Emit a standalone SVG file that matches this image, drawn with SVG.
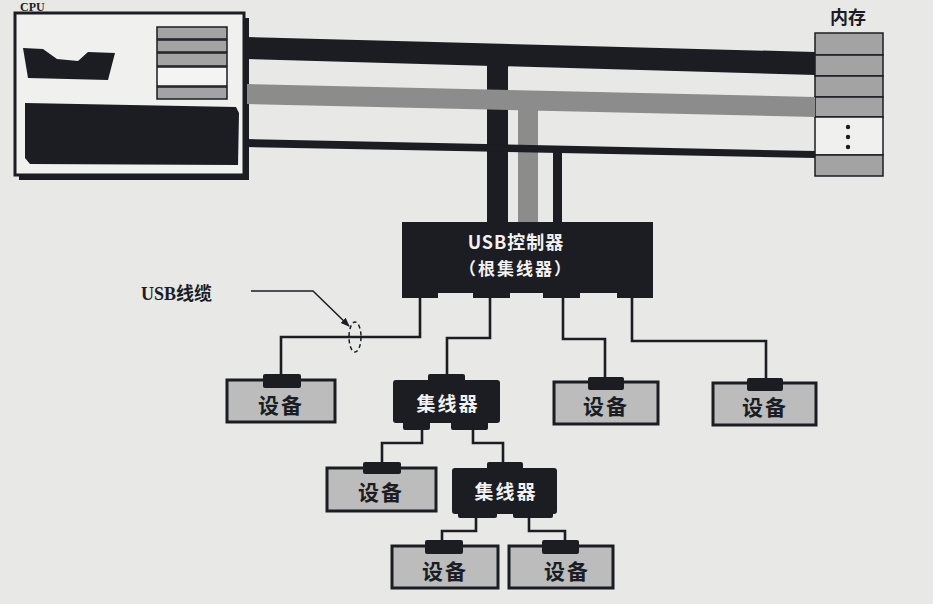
<svg xmlns="http://www.w3.org/2000/svg" width="933" height="604" viewBox="0 0 933 604">
<defs>
<style>
.dk{fill:#1b1d22}
.gr{fill:#8c8c8c}
.reg{fill:#a3a3a3;stroke:#1b1d22;stroke-width:1.5}
.dev{fill:#bcbcbc;stroke:#1b1d22;stroke-width:3}
.cable{fill:none;stroke:#1b1d22;stroke-width:2.6}
.wt{fill:#f2f2f2;font-family:"Noto Sans CJK SC","Liberation Sans",sans-serif;font-weight:bold;text-anchor:middle}
.bt{fill:#1b1d22;font-family:"Noto Sans CJK SC","Liberation Sans",sans-serif;font-weight:bold;text-anchor:middle}
.lbl{fill:#1b1d22;font-family:"Liberation Serif","Noto Sans CJK SC",serif;font-weight:bold}
</style>
<marker id="arr" viewBox="0 0 10 10" refX="9" refY="5" markerWidth="6" markerHeight="6" orient="auto">
<path d="M0,1 L10,5 L0,9 Z" fill="#1b1d22"/>
</marker>
</defs>
<rect width="933" height="604" fill="#e8e8e6"/>

<g id="cpu">
<text x="20" y="11" class="lbl" font-size="12">CPU</text>
<rect x="19" y="18" width="230" height="162" class="dk"/>
<rect x="15" y="13" width="229" height="162" fill="#f0f0ee" stroke="#1b1d22" stroke-width="3"/>
<polygon points="23,48 43,49 57,59 78,61 88,52 115,53 108,80 28,78" class="dk"/>
<rect x="157" y="27" width="70" height="12" class="reg"/>
<rect x="157" y="40" width="70" height="12" class="reg"/>
<rect x="157" y="53" width="70" height="13" class="reg"/>
<rect x="157" y="67" width="70" height="19" fill="#f4f4f2" stroke="#1b1d22" stroke-width="1.5"/>
<rect x="157" y="87" width="70" height="12" class="reg"/>
<polygon points="25,103 236,107 239,113 238,165 30,164 25,158" class="dk"/>
</g>

<g id="memory">
<text x="848" y="24" class="bt" font-size="18">内存</text>
<rect x="815" y="33" width="68" height="22" class="reg"/>
<rect x="815" y="55" width="68" height="21" class="reg"/>
<rect x="815" y="76" width="68" height="21" class="reg"/>
<rect x="815" y="97" width="68" height="20" class="reg"/>
<rect x="815" y="117" width="68" height="38" fill="#f0f0ee" stroke="#1b1d22" stroke-width="1.5"/>
<rect x="815" y="155" width="68" height="21" class="reg"/>
<circle cx="848" cy="127" r="2.2" class="dk"/>
<circle cx="848" cy="137" r="2.2" class="dk"/>
<circle cx="848" cy="147" r="2.2" class="dk"/>
</g>

<g id="buses">
<polygon points="247,37 815,52 815,75 247,59" class="dk"/>
<rect x="487" y="50" width="21" height="175" class="dk"/>
<polygon points="247,84 815,97 815,117 247,104" class="gr"/>
<rect x="518" y="100" width="20" height="125" class="gr"/>
<polygon points="247,139 815,151 815,158 247,147" class="dk"/>
<rect x="553" y="150" width="9" height="75" class="dk"/>
</g>

<g id="connectors">
<polyline points="420,296 420,337 281,337 281,376" class="cable"/>
<polyline points="490,296 490,338 447,338 447,376" class="cable"/>
<polyline points="563,296 563,339 605,339 605,378" class="cable"/>
<polyline points="632,296 632,341 766,341 766,378" class="cable"/>
<polyline points="422,428 422,443 382,443 382,463" class="cable"/>
<polyline points="473,428 473,443 503,443 503,463" class="cable"/>
<polyline points="476,516 476,531 442,531 442,541" class="cable"/>
<polyline points="529,516 529,531 565,531 565,541" class="cable"/>
</g>

<g id="usb-cable-label">
<text x="141" y="300" class="lbl" font-size="18">USB线缆</text>
<polyline points="251,291 313,291 349,326" fill="none" stroke="#1b1d22" stroke-width="1.5" marker-end="url(#arr)"/>
<ellipse cx="355" cy="337" rx="6" ry="15" fill="none" stroke="#1b1d22" stroke-width="1.5" stroke-dasharray="4,3"/>
</g>

<g id="usb-controller">
<rect x="402" y="222" width="251" height="71" class="dk"/>
<rect x="402" y="290" width="36" height="8" class="dk"/>
<rect x="473" y="290" width="37" height="8" class="dk"/>
<rect x="543" y="290" width="37" height="8" class="dk"/>
<rect x="617" y="290" width="36" height="8" class="dk"/>
<text x="516" y="249" class="wt" font-size="18" letter-spacing="1">USB控制器</text>
<text x="516" y="275" class="wt" font-size="17" letter-spacing="2">（根集线器）</text>
</g>

<g id="device1">
<rect x="227" y="380" width="108" height="42" class="dev"/>
<rect x="263" y="374" width="38" height="14" rx="2" class="dk"/>
<text x="281" y="413" class="bt" font-size="21" letter-spacing="2">设备</text>
</g>

<g id="hub1">
<rect x="428" y="374" width="37" height="8" rx="2" class="dk"/>
<rect x="393" y="380" width="107" height="43" rx="3" class="dk"/>
<rect x="403" y="420" width="27" height="10" rx="2" class="dk"/>
<rect x="451" y="420" width="37" height="10" rx="2" class="dk"/>
<text x="448" y="411" class="wt" font-size="19" letter-spacing="2">集线器</text>
</g>

<g id="device2">
<rect x="554" y="382" width="104" height="42" class="dev"/>
<rect x="588" y="377" width="36" height="13" rx="2" class="dk"/>
<text x="606" y="414" class="bt" font-size="21" letter-spacing="2">设备</text>
</g>

<g id="device3">
<rect x="713" y="383" width="103" height="42" class="dev"/>
<rect x="747" y="378" width="36" height="13" rx="2" class="dk"/>
<text x="765" y="415" class="bt" font-size="21" letter-spacing="2">设备</text>
</g>

<g id="device4">
<rect x="327" y="468" width="109" height="43" class="dev"/>
<rect x="363" y="462" width="38" height="12" rx="2" class="dk"/>
<text x="381" y="500" class="bt" font-size="21" letter-spacing="2">设备</text>
</g>

<g id="hub2">
<rect x="487" y="462" width="36" height="8" rx="2" class="dk"/>
<rect x="452" y="468" width="105" height="46" rx="3" class="dk"/>
<rect x="458" y="510" width="39" height="8" rx="2" class="dk"/>
<rect x="513" y="510" width="40" height="8" rx="2" class="dk"/>
<text x="506" y="499" class="wt" font-size="19" letter-spacing="2">集线器</text>
</g>

<g id="device5">
<rect x="392" y="546" width="106" height="42" class="dev"/>
<rect x="425" y="540" width="38" height="14" rx="2" class="dk"/>
<text x="445" y="579" class="bt" font-size="21" letter-spacing="2">设备</text>
</g>

<g id="device6">
<rect x="509" y="546" width="104" height="42" class="dev"/>
<rect x="542" y="540" width="37" height="14" rx="2" class="dk"/>
<text x="567" y="579" class="bt" font-size="21" letter-spacing="2">设备</text>
</g>
</svg>
